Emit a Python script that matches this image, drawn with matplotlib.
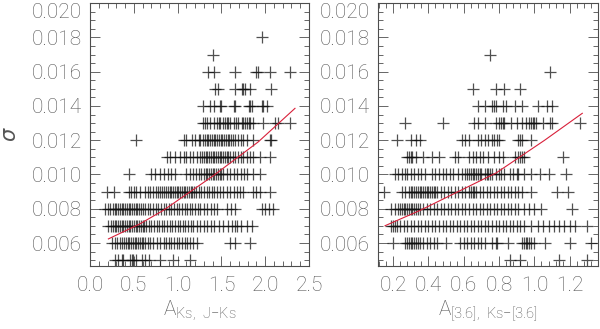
import numpy as np
import matplotlib.pyplot as plt
from matplotlib.ticker import MultipleLocator

plt.rcParams['font.family'] = ['Roboto', 'DejaVu Sans']
plt.rcParams['mathtext.fontset'] = 'custom'
plt.rcParams['mathtext.rm'] = 'Roboto:light'
plt.rcParams['mathtext.it'] = 'DejaVu Sans:italic'

# sigma levels shared by both panels
sigma_levels = [0.005, 0.006, 0.007, 0.008, 0.009, 0.010, 0.011,
                0.012, 0.013, 0.014, 0.015, 0.016, 0.017, 0.018]

# left panel: A_Ks (J-Ks) values per sigma level
ks_005 = [0.29, 0.32, 0.36, 0.38, 0.46, 0.48, 0.49, 0.53, 0.59, 0.63, 0.67, 0.80, 0.95, 1.14]
ks_006 = [0.25, 0.28, 0.31, 0.34, 0.37, 0.39, 0.41, 0.43, 0.45, 0.47, 0.49, 0.51, 0.53, 0.55,
          0.57, 0.59, 0.61, 0.63, 0.66, 0.69, 0.72, 0.76, 0.80, 0.84, 0.87, 0.90, 0.93, 0.96,
          0.99, 1.02, 1.05, 1.08, 1.11, 1.14, 1.18, 1.22, 1.60, 1.66, 1.83]
ks_007 = [0.21, 0.24, 0.26, 0.28, 0.30, 0.32, 0.34, 0.36, 0.38, 0.40, 0.42, 0.44, 0.46, 0.48,
          0.50, 0.52, 0.54, 0.56, 0.58, 0.60, 0.62, 0.64, 0.67, 0.70, 0.73, 0.76, 0.79, 0.82,
          0.85, 0.88, 0.91, 0.94, 0.97, 1.00, 1.03, 1.06, 1.09, 1.12, 1.15, 1.18, 1.22, 1.26,
          1.30, 1.34, 1.38, 1.42, 1.47, 1.52, 1.57, 1.62, 1.66, 1.68, 1.72, 1.79, 1.85]
ks_008 = [0.17, 0.20, 0.23, 0.26, 0.28, 0.30, 0.32, 0.34, 0.36, 0.38, 0.40, 0.42, 0.44, 0.46,
          0.48, 0.50, 0.52, 0.54, 0.56, 0.58, 0.60, 0.63, 0.66, 0.69, 0.72, 0.75, 0.78, 0.81,
          0.84, 0.87, 0.90, 0.93, 0.96, 0.99, 1.02, 1.05, 1.08, 1.11, 1.14, 1.17, 1.20, 1.23,
          1.26, 1.30, 1.34, 1.38, 1.42, 1.45, 1.56, 1.61, 1.66, 1.96, 2.00, 2.04, 2.09]
ks_009 = [0.19, 0.27, 0.44, 0.47, 0.50, 0.53, 0.57, 0.63, 0.66, 0.69, 0.72, 0.75, 0.78, 0.80,
          0.82, 0.85, 0.87, 0.89, 0.91, 0.93, 0.95, 0.97, 0.99, 1.01, 1.03, 1.05, 1.07, 1.09,
          1.11, 1.13, 1.15, 1.17, 1.19, 1.21, 1.24, 1.27, 1.30, 1.33, 1.36, 1.39, 1.42, 1.45,
          1.48, 1.52, 1.56, 1.60, 1.64, 1.68, 1.71, 1.75, 1.86, 1.90, 1.94, 2.05]
ks_010 = [0.44, 0.70, 0.74, 0.80, 0.84, 0.89, 0.93, 0.97, 1.10, 1.14, 1.18, 1.21, 1.24, 1.27,
          1.30, 1.32, 1.34, 1.36, 1.38, 1.40, 1.42, 1.44, 1.46, 1.48, 1.50, 1.52, 1.56, 1.60,
          1.64, 1.68, 1.72, 1.76, 1.79, 1.86, 1.94]
ks_011 = [0.88, 0.91, 0.97, 1.03, 1.07, 1.10, 1.14, 1.18, 1.22, 1.26, 1.28, 1.30, 1.32, 1.34,
          1.36, 1.38, 1.40, 1.42, 1.44, 1.46, 1.48, 1.50, 1.52, 1.54, 1.56, 1.58, 1.60, 1.63,
          1.66, 1.69, 1.72, 1.75, 1.79, 1.83, 1.86, 1.94, 2.05]
ks_012 = [0.53, 1.07, 1.10, 1.16, 1.20, 1.24, 1.26, 1.29, 1.31, 1.33, 1.35, 1.37, 1.39, 1.41,
          1.43, 1.45, 1.47, 1.49, 1.51, 1.53, 1.55, 1.57, 1.59, 1.61, 1.63, 1.66, 1.69, 1.72,
          1.75, 1.79, 1.86, 2.05, 2.07]
ks_013 = [1.29, 1.31, 1.33, 1.37, 1.41, 1.45, 1.47, 1.48, 1.52, 1.54, 1.56, 1.58, 1.60, 1.64,
          1.67, 1.69, 1.73, 1.75, 1.77, 1.79, 1.81, 1.83, 1.86, 1.98, 2.11, 2.15, 2.28]
ks_014 = [1.29, 1.37, 1.41, 1.48, 1.50, 1.64, 1.66, 1.81, 1.83, 1.85, 1.96, 1.98, 2.02]
ks_015 = [1.43, 1.46, 1.66, 1.73, 1.75, 1.77, 1.83, 2.07]
ks_016 = [1.35, 1.42, 1.66, 1.90, 1.92, 2.05, 2.28]
ks_017 = [1.40]
ks_018 = [1.96]

# right panel: A_[3.6] (Ks-[3.6]) values per sigma level
irac_005 = [0.86, 0.92, 1.14, 1.30]
irac_006 = [0.20, 0.27, 0.28, 0.29, 0.30, 0.31, 0.32, 0.33, 0.34, 0.35, 0.37, 0.39, 0.41, 0.43,
            0.45, 0.50, 0.58, 0.60, 0.62, 0.64, 0.66, 0.68, 0.70, 0.72, 0.76, 0.78, 0.79, 0.85,
            0.93, 0.94, 0.95, 0.96, 0.97, 0.98, 1.00, 1.06, 1.20, 1.32]
irac_007 = [0.19, 0.20, 0.21, 0.22, 0.24, 0.26, 0.28, 0.30, 0.32, 0.34, 0.36, 0.38, 0.40, 0.42,
            0.44, 0.46, 0.48, 0.50, 0.52, 0.54, 0.56, 0.58, 0.60, 0.62, 0.64, 0.66, 0.68, 0.70,
            0.72, 0.74, 0.76, 0.78, 0.80, 0.82, 0.84, 0.86, 0.88, 0.90, 0.92, 0.94, 0.98, 1.02,
            1.05, 1.08, 1.11, 1.14, 1.17, 1.20, 1.23, 1.30]
irac_008 = [0.19, 0.21, 0.23, 0.24, 0.25, 0.26, 0.27, 0.28, 0.29, 0.30, 0.31, 0.32, 0.33, 0.34,
            0.35, 0.37, 0.39, 0.41, 0.43, 0.45, 0.47, 0.49, 0.51, 0.53, 0.55, 0.57, 0.59, 0.61,
            0.63, 0.65, 0.67, 0.69, 0.71, 0.73, 0.75, 0.77, 0.79, 0.81, 0.83, 0.85, 0.87, 0.89,
            0.91, 0.94, 0.97, 1.00, 1.04, 1.21]
irac_009 = [0.15, 0.25, 0.27, 0.29, 0.30, 0.31, 0.32, 0.33, 0.34, 0.35, 0.36, 0.37, 0.38, 0.39,
            0.40, 0.41, 0.42, 0.43, 0.44, 0.45, 0.47, 0.49, 0.51, 0.53, 0.55, 0.57, 0.59, 0.61,
            0.63, 0.64, 0.65, 0.66, 0.67, 0.69, 0.71, 0.73, 0.75, 0.77, 0.79, 0.81, 0.83, 0.85,
            0.87, 0.89, 0.91, 0.93, 0.98, 1.13, 1.19]
irac_010 = [0.21, 0.23, 0.25, 0.27, 0.28, 0.30, 0.32, 0.34, 0.36, 0.38, 0.42, 0.44, 0.46, 0.48,
            0.50, 0.52, 0.54, 0.57, 0.59, 0.61, 0.62, 0.63, 0.64, 0.65, 0.66, 0.67, 0.68, 0.69,
            0.70, 0.72, 0.73, 0.74, 0.75, 0.76, 0.78, 0.80, 0.81, 0.83, 0.86, 0.88, 0.90, 0.91,
            0.94, 0.98, 1.03, 1.08, 1.18]
irac_011 = [0.28, 0.29, 0.30, 0.31, 0.33, 0.37, 0.42, 0.46, 0.55, 0.57, 0.63, 0.65, 0.67, 0.69,
            0.71, 0.74, 0.77, 0.80, 0.82, 0.89, 0.91, 0.92, 0.93, 0.94, 1.16]
irac_012 = [0.22, 0.30, 0.33, 0.35, 0.59, 0.61, 0.63, 0.68, 0.70, 0.72, 0.74, 0.76, 0.77, 0.79,
            0.80, 0.91, 0.92, 0.93, 0.98]
irac_013 = [0.27, 0.48, 0.66, 0.68, 0.72, 0.78, 0.80, 0.81, 0.82, 0.83, 0.87, 0.90, 0.93, 0.95,
            0.97, 0.98, 0.99, 1.00, 1.01, 1.05, 1.09, 1.10, 1.26]
irac_014 = [0.68, 0.72, 0.76, 0.77, 0.78, 0.82, 0.84, 0.89, 0.93, 1.02, 1.07, 1.10]
irac_015 = [0.65, 0.78, 0.83, 0.92]
irac_016 = [1.09]
irac_017 = [0.75]
irac_018 = []

# red fit curves
fit_ks_x = [0.21, 0.57, 0.835, 1.40, 1.92, 2.34]
fit_ks_y = [0.00624, 0.00712, 0.0079, 0.0099, 0.0119, 0.01386]
fit_irac_x = [0.155, 0.352, 0.785, 1.058, 1.271]
fit_irac_y = [0.00701, 0.0079, 0.0101, 0.0120, 0.01357]

ks_rows = [ks_005, ks_006, ks_007, ks_008, ks_009, ks_010, ks_011,
           ks_012, ks_013, ks_014, ks_015, ks_016, ks_017, ks_018]
irac_rows = [irac_005, irac_006, irac_007, irac_008, irac_009, irac_010, irac_011,
             irac_012, irac_013, irac_014, irac_015, irac_016, irac_017, irac_018]


def stack(rows):
    xs, ys = [], []
    for s, row in zip(sigma_levels, rows):
        xs += row
        ys += [s] * len(row)
    return np.array(xs), np.array(ys)


label_col = '#555555'
fig = plt.figure(figsize=(6, 3.29), dpi=100)
ax1 = fig.add_axes([0.15, 0.1915, 0.365, 0.799])
ax2 = fig.add_axes([0.63, 0.1915, 0.3667, 0.799])

panels = [
    (ax1, ks_rows, fit_ks_x, fit_ks_y, (0.0, 2.5), 0.5, 0.1, r'$\rm A_{Ks,\ J{-}Ks}$'),
    (ax2, irac_rows, fit_irac_x, fit_irac_y, (0.115, 1.36), 0.2, 0.04,
     r'$\rm A_{[3.6],\ Ks{-}[3.6]}$'),
]

for ax, rows, fx, fy, xlim, xmaj, xmin, xlab in panels:
    x, y = stack(rows)
    ax.plot(x, y, ls='none', marker='+', ms=8.5, mew=0.9, color='0.05', alpha=0.72)
    ax.plot(fx, fy, color='#d8203a', lw=0.8)
    ax.set_xlim(*xlim)
    ax.set_ylim(0.00466, 0.020)
    ax.xaxis.set_major_locator(MultipleLocator(xmaj))
    ax.xaxis.set_minor_locator(MultipleLocator(xmin))
    ax.yaxis.set_major_locator(MultipleLocator(0.002))
    ax.yaxis.set_minor_locator(MultipleLocator(0.0005))
    ax.yaxis.set_major_formatter(plt.FormatStrFormatter('%.3f'))
    ax.xaxis.set_major_formatter(plt.FormatStrFormatter('%.1f'))
    ax.tick_params(which='both', direction='in', top=True, right=True,
                   colors='0.3', labelcolor=label_col, labelsize=15, width=0.6)
    ax.tick_params(which='major', length=7)
    ax.tick_params(which='minor', length=3.5)
    ax.tick_params(axis='x', which='major', pad=7)
    ax.tick_params(axis='y', which='major', pad=6)
    for lbl in ax.get_xticklabels() + ax.get_yticklabels():
        lbl.set_fontweight('light')
    for sp in ax.spines.values():
        sp.set_color('0.3')
        sp.set_linewidth(0.8)
    ax.set_xlabel(xlab, fontsize=15, color=label_col, labelpad=3)
    fig.canvas.draw()
    for lbl in ax.get_yticklabels():
        if lbl.get_text() == '0.020':
            lbl.set_verticalalignment('top')

ax1.set_ylabel(r'$\sigma$', fontsize=15, color=label_col, labelpad=8)

fig.savefig('out.png', dpi=100)
